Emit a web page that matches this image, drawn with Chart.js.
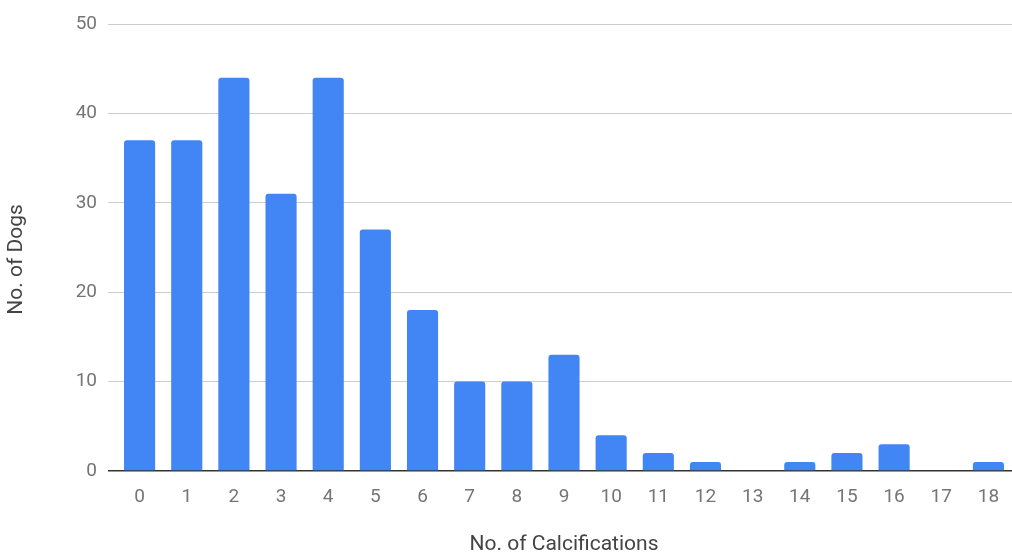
<!DOCTYPE html>
<html>
<head>
<meta charset="utf-8">
<script src="https://cdn.jsdelivr.net/npm/chart.js@4"></script>
<style>
  html, body { margin: 0; padding: 0; background: #fff; }
  #wrap { width: 1012px; height: 557px; }
</style>
</head>
<body>
<div id="wrap"><canvas id="dogsChart"></canvas></div>
<script>
// Data
const calcifications = ['0', '1', '2', '3', '4', '5', '6', '7', '8', '9', '10', '11', '12', '13', '14', '15', '16', '17', '18'];
const dogCounts = [37, 37, 44, 31, 44, 27, 18, 10, 10, 13, 4, 2, 1, 0, 1, 2, 3, 0, 1];
const yTicks = [0, 10, 20, 30, 40, 50];

const labelFont = { family: 'Roboto', size: 19 };
const titleFont = { family: 'Roboto', size: 21 };

// y title sits a bit below the middle of the plot in the original, so draw it by hand
const yTitlePlugin = {
    id: 'yTitle',
    afterDraw(chart) {
        const c = chart.ctx;
        c.save();
        c.translate(17, chart.chartArea.top + (chart.chartArea.bottom - chart.chartArea.top) / 2 + 12);
        c.rotate(-Math.PI / 2);
        c.font = titleFont.size + 'px ' + titleFont.family;
        c.fillStyle = '#444';
        c.textAlign = 'center';
        c.textBaseline = 'middle';
        c.fillText('No. of Dogs', 0, 0);
        c.restore();
    }
};

const ctx = document.getElementById('dogsChart').getContext('2d');
new Chart(ctx, {
    type: 'bar',
    data: {
        labels: calcifications,
        datasets: [{
            label: 'No. of Dogs',
            data: dogCounts,
            backgroundColor: '#4285F4',
            borderRadius: 3,
            borderSkipped: 'bottom',
            barPercentage: 0.66,
            categoryPercentage: 1
        }]
    },
    options: {
        responsive: true,
        maintainAspectRatio: false,
        animation: false,
        layout: {
            padding: { top: 24, right: 0, bottom: 0, left: 0 }
        },
        plugins: {
            legend: { display: false },
            tooltip: { enabled: false }
        },
        scales: {
            x: {
                grid: { display: false },
                border: { display: false },
                ticks: {
                    color: '#757575',
                    font: labelFont,
                    padding: 7,
                    maxRotation: 0
                },
                title: {
                    display: true,
                    text: 'No. of Calcifications',
                    color: '#444',
                    font: titleFont,
                    padding: { top: 0, bottom: 0 }
                },
                afterFit: function(scale) {
                    scale.height = 557 - 471;
                }
            },
            y: {
                min: 0,
                max: 50,
                afterBuildTicks: function(scale) {
                    scale.ticks = yTicks.map(v => ({ value: v }));
                },
                grid: {
                    color: function(c) {
                        return c.tick && c.tick.value === 0 ? '#333333' : '#cccccc';
                    },
                    lineWidth: function(c) {
                        return c.tick && c.tick.value === 0 ? 1.5 : 1;
                    },
                    drawTicks: true,
                    tickLength: 8
                },
                border: { display: false },
                ticks: {
                    color: '#757575',
                    font: labelFont,
                    padding: 11
                },
                afterFit: function(scale) {
                    scale.width = 116;
                }
            }
        }
    },
    plugins: [yTitlePlugin]
});
</script>
</body>
</html>
